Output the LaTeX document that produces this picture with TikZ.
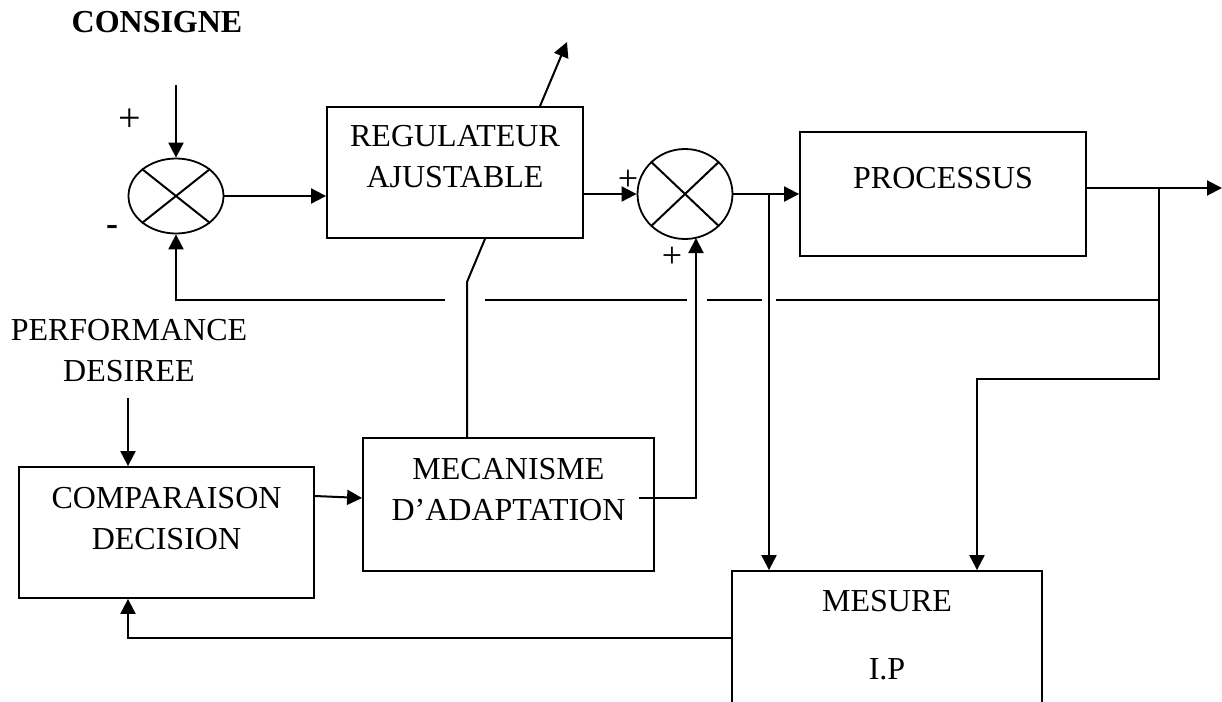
\documentclass[tikz,border=0pt]{standalone}
\usepackage{fontspec}
\setmainfont{Liberation Serif}
\usetikzlibrary{arrows.meta,positioning,shapes.geometric}

\begin{document}
\begin{tikzpicture}[x=0.5pt, y=-0.5pt, line width=1pt,
  >={Triangle[length=7.5pt,width=7.5pt]},
  bloc/.style={draw, line width=0.9pt, inner sep=0pt},
  titre/.style={anchor=north, align=center, inner sep=0pt, font=\fontsize{16}{20.5}\selectfont},
  sommateur/.style={draw, ellipse, line width=0.9pt, inner sep=0pt, minimum width=47.5pt},
  signe/.style={inner sep=0pt, font=\fontsize{20}{20}\selectfont}]

\useasboundingbox (0,0) rectangle (1222,702);
\clip (0,0) rectangle (1222,702);

% blocs
\node[bloc, minimum width=128pt, minimum height=65.5pt,
  label={[titre, yshift=-9pt]north:REGULATEUR\\AJUSTABLE}] (reg) at (455,172.5) {};
\node[bloc, minimum width=143pt, minimum height=62pt,
  label={[titre, yshift=-17.5pt]north:PROCESSUS}] (proc) at (943,194) {};
\node[bloc, minimum width=147.5pt, minimum height=65.5pt,
  label={[titre, yshift=-10pt]north:COMPARAISON\\DECISION}] (comp) at (166.5,532.5) {};
\node[bloc, minimum width=145.5pt, minimum height=66.5pt,
  label={[titre, yshift=-10pt]north:MECANISME\\D'ADAPTATION}] (mec) at (508.5,504.5) {};
\node[bloc, minimum width=155pt, minimum height=70.5pt,
  label={[titre, yshift=-9.5pt]north:MESURE\\[13.5pt]I.P}] (mes) at (887,641.5) {};

% sommateurs
\node[sommateur, minimum height=37.5pt] (s1) at (176,196) {};
\node[sommateur, minimum height=45pt] (s2) at (685,194) {};
\draw (s1.north west) -- (s1.south east) (s1.north east) -- (s1.south west);
\draw (s2.north west) -- (s2.south east) (s2.north east) -- (s2.south west);

% textes
\node[font=\bfseries\fontsize{16}{16}\selectfont] (consigne) at (157,22) {CONSIGNE};
\node[titre, anchor=center] (perf) at (129,351) {PERFORMANCE\\DESIREE};
\node[signe] (plus1) at (130,120) {+};
\node[signe, font=\bfseries\fontsize{18}{18}\selectfont] (moins1) at (112,230) {-};
\node[signe, font=\fontsize{18}{18}\selectfont] (plus2) at (628,180) {+};
\node[signe, font=\fontsize{18}{18}\selectfont] (plus3) at (672,257) {+};

% points
\coordinate (cin) at (176,85);
\coordinate (cup) at (567,42);
\coordinate (out) at (1222,188);
\coordinate (b1) at (769,194);
\coordinate (b2) at (1159,188);
\coordinate (k1) at (467,282);
\coordinate (f1) at (1159,300);
\coordinate (f2) at (1159,379);
\coordinate (f3) at (977,379);
\coordinate (pa) at (128,398);
\coordinate (a1) at (696,498);
\coordinate (a2) at (696,238);

% chaine directe
\draw[->] (cin) -- (s1.north);
\draw[->] (s1.east) -- (s1.east -| reg.west);
\draw[->] (s2.west -| reg.east) -- (s2.west);
\draw[->] (s2.east) -- (s2.east -| proc.west);
\draw[->] (proc.east |- out) -- (out);
\draw[->] ([xshift=42.5pt]reg.north) -- (cup);

% retours
\draw (b2) -- (f1) -- (776,300);
\draw (762,300) -- (707,300);
\draw (687,300) -- (485,300);
\draw[->] (445,300) -| (s1.south);
\draw[->] (f1) -- (f2) -- (f3) -- (f3 |- mes.north);
\draw[->] (b1) -- (b1 |- mes.north);
\draw[->] ([yshift=1.75pt]mes.west) -| ([xshift=-19.25pt]comp.south);

% adaptation
\draw[->] (pa) -- (pa |- comp.north);
\draw[->] ([yshift=18.25pt]comp.east) -- ([yshift=3.25pt]mec.west);
\draw[->] ([shift={(-8pt,3.25pt)}]mec.east) -- (a1) -- (a2);
\draw ([xshift=15pt]reg.south) -- (k1) -- (k1 |- mec.north);
\end{tikzpicture}
\end{document}
